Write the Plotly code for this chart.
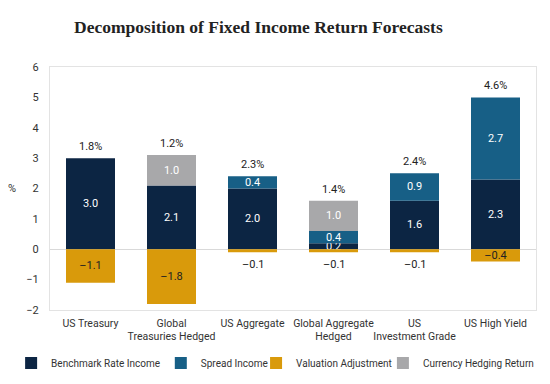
import plotly.graph_objects as go

categories = ["US Treasury", "Global<br>Treasuries Hedged", "US Aggregate",
              "Global Aggregate<br>Hedged", "US<br>Investment Grade", "US High Yield"]
benchmark = [3.0, 2.1, 2.0, 0.2, 1.6, 2.3]
spread = [0.0, 0.0, 0.4, 0.4, 0.9, 2.7]
valuation = [-1.1, -1.8, -0.1, -0.1, -0.1, -0.4]
hedging = [0.0, 1.0, 0.0, 1.0, 0.0, 0.0]
totals = [1.8, 1.2, 2.3, 1.4, 2.4, 4.6]

FONT = "Roboto, Liberation Sans, sans-serif"

def fmt(v):
    s = f"{abs(v):.1f}"
    return ("\u2013" + s) if v < 0 else s

def labels(vals, minv=0.15):
    return [fmt(v) if abs(v) >= minv else "" for v in vals]

fig = go.Figure()
series = [
    ("Benchmark Rate Income", benchmark, "#0c2543"),
    ("Spread Income", spread, "#175f86"),
    ("Valuation Adjustment", valuation, "#d99a0b"),
    ("Currency Hedging Return", hedging, "#a8a8aa"),
]
# one legend per entry so the row can be spaced like the reference
legend_x = [-0.080, 0.228, 0.424, 0.685]
legend_ids = ["legend", "legend2", "legend3", "legend4"]
for (name, vals, col), lid in zip(series, legend_ids):
    txtcol = "#222222" if name == "Valuation Adjustment" else "white"
    fig.add_trace(go.Bar(
        x=categories, y=vals, name=name, marker_color=col, marker_line_width=0,
        text=labels(vals), textposition="inside", insidetextanchor="middle",
        textfont=dict(color=txtcol, size=11, family=FONT),
        textangle=0, cliponaxis=False, legend=lid,
    ))

for c, b, s, h, t in zip(categories, benchmark, spread, hedging, totals):
    top = b + s + h
    fig.add_annotation(x=c, y=top, text=f"{t:.1f}%", showarrow=False,
                       yanchor="bottom", yshift=3,
                       font=dict(size=11, color="#222222", family=FONT))
for c, v in zip(categories, valuation):
    if abs(v) < 0.15:
        fig.add_annotation(x=c, y=v, text=fmt(v), showarrow=False,
                           yanchor="top", yshift=-4,
                           font=dict(size=11, color="#222222", family=FONT))

fig.add_annotation(xref="paper", yref="paper", x=-0.078, xanchor="center",
                   y=0.5, text="%", showarrow=False,
                   font=dict(size=11, color="#333333", family=FONT))

leg_common = dict(orientation="h", xanchor="left", y=-0.218, yanchor="middle",
                  font=dict(size=10, color="#333333", family=FONT),
                  bgcolor="rgba(0,0,0,0)", itemwidth=30)
layout_legends = {lid: dict(x=lx, **leg_common) for lid, lx in zip(legend_ids, legend_x)}

fig.update_layout(
    barmode="relative",
    bargap=0.395,
    width=542, height=376,
    margin=dict(l=42, r=14, t=59, b=74, autoexpand=False),
    paper_bgcolor="white", plot_bgcolor="white",
    title=dict(text="<b>Decomposition of Fixed Income Return Forecasts</b>",
               x=0.462, xanchor="center", y=0.95, yanchor="middle",
               font=dict(family="Liberation Serif, DejaVu Serif, serif", size=17.5, color="#222222")),
    uniformtext=dict(minsize=11, mode="show"),
    showlegend=True,
    font=dict(family=FONT, color="#333333"),
    **layout_legends,
)
fig.update_xaxes(showline=True, mirror=True, linecolor="#e3e3e3", linewidth=1,
                 ticks="", tickangle=0, automargin=False, ticklabelstandoff=3,
                 tickfont=dict(size=10.5, color="#333333", family=FONT))
fig.update_yaxes(range=[-2, 6], dtick=1, showgrid=False, zeroline=True,
                 zerolinecolor="#d9d9d9", zerolinewidth=1, automargin=False,
                 showline=True, mirror=True, linecolor="#e3e3e3", linewidth=1,
                 ticks="", ticklabelstandoff=8,
                 tickfont=dict(size=11, color="#333333", family=FONT))

fig.write_html("out.html")
